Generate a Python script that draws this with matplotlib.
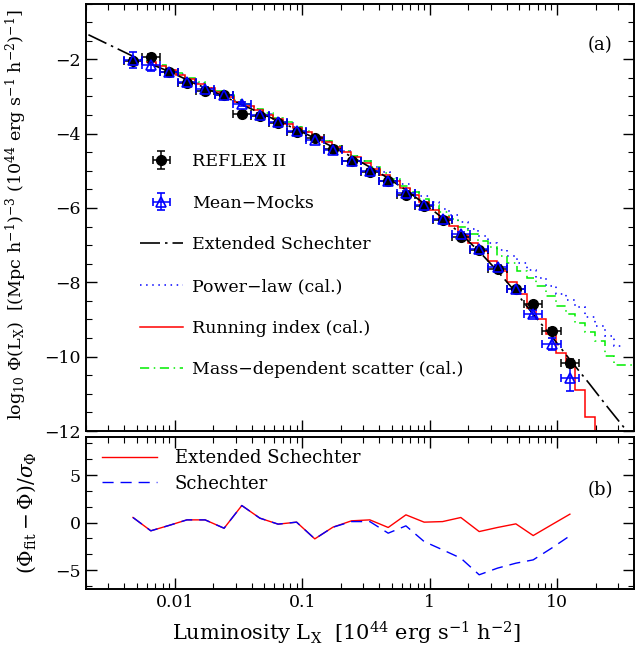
import numpy as np
import matplotlib
matplotlib.use('Agg')
import matplotlib.pyplot as plt
from matplotlib.ticker import MultipleLocator, LogLocator, FuncFormatter, NullFormatter
from matplotlib.lines import Line2D

plt.rcParams['font.family'] = 'DejaVu Serif'
plt.rcParams['mathtext.fontset'] = 'dejavuserif'

# --- data (log10 L_X bin centres) ---
log_lx = [-2.33, -2.19, -2.046, -1.907, -1.764, -1.615, -1.476, -1.334, -1.191, -1.046,
          -0.903, -0.761, -0.615, -0.471, -0.327, -0.188, -0.045, 0.100, 0.243, 0.387,
          0.531, 0.675, 0.811, 0.955, 1.099]
reflex_phi = [-2.05, -1.93, -2.335, -2.63, -2.85, -2.965, -3.48, -3.52, -3.71, -3.96,
              -4.11, -4.42, -4.74, -5.02, -5.28, -5.65, -5.96, -6.32, -6.78, -7.14,
              -7.65, -8.19, -8.59, -9.32, -10.17]
reflex_err = [0.08, 0.06, 0.05, 0.04, 0.04, 0.04, 0.04, 0.04, 0.04, 0.04,
              0.04, 0.04, 0.04, 0.04, 0.04, 0.04, 0.04, 0.04, 0.04, 0.04,
              0.05, 0.05, 0.06, 0.08, 0.12]
mocks_phi = [-2.02, -2.15, -2.34, -2.62, -2.80, -2.97, -3.21, -3.49, -3.68, -3.93,
             -4.16, -4.45, -4.74, -5.00, -5.27, -5.60, -5.92, -6.29, -6.70, -7.11,
             -7.60, -8.19, -8.84, -9.65, -10.58]
mocks_err = [0.22, 0.16, 0.08, 0.06, 0.06, 0.05, 0.05, 0.05, 0.05, 0.05,
             0.05, 0.05, 0.05, 0.05, 0.05, 0.05, 0.05, 0.05, 0.05, 0.05,
             0.06, 0.07, 0.10, 0.16, 0.35]
half_bin = 0.0715

# extended Schechter fit
ext_loglx = [-2.68, -2.33, -2.19, -2.046, -1.907, -1.764, -1.615, -1.476, -1.334, -1.191,
             -1.046, -0.903, -0.761, -0.615, -0.471, -0.327, -0.188, -0.045, 0.100, 0.243,
             0.387, 0.531, 0.675, 0.811, 0.955, 1.099, 1.25, 1.40, 1.56]
ext_phi = [-1.34, -1.92, -2.13, -2.33, -2.55, -2.77, -3.00, -3.22, -3.44, -3.66,
           -3.89, -4.12, -4.36, -4.62, -4.90, -5.20, -5.52, -5.88, -6.27, -6.70,
           -7.17, -7.70, -8.27, -8.86, -9.45, -10.08, -10.72, -11.38, -12.06]

# calibrated model predictions, step functions
step_edges = [-2.224, -2.148, -2.071, -1.995, -1.918, -1.842, -1.765, -1.689, -1.612, -1.536,
              -1.459, -1.383, -1.306, -1.230, -1.153, -1.077, -1.000, -0.924, -0.847, -0.771,
              -0.694, -0.618, -0.541, -0.465, -0.388, -0.312, -0.235, -0.159, -0.082, -0.006,
              0.071, 0.147, 0.224, 0.300, 0.377, 0.453, 0.530, 0.606, 0.683, 0.759,
              0.836, 0.912, 0.989, 1.065, 1.142, 1.218, 1.295, 1.371, 1.448, 1.524, 1.601]
running_phi = [-2.08, -2.19, -2.30, -2.42, -2.54, -2.66, -2.78, -2.89, -3.01, -3.14,
               -3.25, -3.37, -3.49, -3.61, -3.73, -3.85, -3.97, -4.10, -4.23, -4.36,
               -4.50, -4.64, -4.79, -4.94, -5.10, -5.27, -5.45, -5.64, -5.83, -6.05,
               -6.25, -6.48, -6.72, -6.95, -7.15, -7.43, -7.69, -8.00, -8.32, -8.68,
               -9.00, -9.40, -9.90, -10.17, -10.89, -11.61, -13.0]
scatter_phi = [-2.04, -2.15, -2.26, -2.38, -2.50, -2.62, -2.74, -2.85, -2.97, -3.10,
               -3.21, -3.33, -3.45, -3.57, -3.69, -3.81, -3.93, -4.06, -4.19, -4.32,
               -4.46, -4.60, -4.75, -4.90, -5.06, -5.22, -5.40, -5.58, -5.75, -5.93,
               -6.12, -6.30, -6.50, -6.70, -6.88, -7.06, -7.29, -7.47, -7.70, -7.88,
               -8.10, -8.37, -8.64, -8.86, -9.10, -9.35, -9.59, -9.99, -10.22, -10.22]
powerlaw_phi = [-2.06, -2.17, -2.28, -2.40, -2.52, -2.64, -2.76, -2.87, -2.99, -3.12,
                -3.23, -3.35, -3.47, -3.59, -3.71, -3.83, -3.95, -4.08, -4.21, -4.34,
                -4.48, -4.61, -4.75, -4.89, -5.04, -5.19, -5.35, -5.51, -5.67, -5.85,
                -6.03, -6.20, -6.38, -6.56, -6.76, -6.95, -7.13, -7.30, -7.48, -7.66,
                -7.88, -8.10, -8.32, -8.48, -8.66, -8.92, -9.18, -9.45, -9.72]

# residuals (Phi_fit - Phi)/sigma
res_ext = [0.53, -0.87, -0.30, 0.28, 0.28, -0.60, 1.79, 0.46, -0.17, 0.04,
           -1.72, -0.49, 0.18, 0.28, -0.52, 0.81, 0.04, 0.10, 0.53, -0.95,
           -0.52, -0.14, -1.37, -0.24, 0.88]
res_sch = [0.53, -0.87, -0.30, 0.28, 0.28, -0.60, 1.79, 0.46, -0.17, 0.04,
           -1.72, -0.49, 0.10, 0.10, -1.12, -0.35, -2.00, -2.87, -3.75, -5.50,
           -4.80, -4.28, -3.93, -2.70, -1.40]

lx = 10 ** np.array(log_lx)
xerr = [lx - lx * 10 ** -half_bin, lx * 10 ** half_bin - lx]
edges = 10 ** np.array(step_edges)

fig = plt.figure(figsize=(6.35, 6.49), dpi=100)
ax1 = fig.add_axes([0.1354, 0.3359, 0.863, 0.6587])
ax2 = fig.add_axes([0.1354, 0.0924, 0.863, 0.2342])

# --- panel (a) ---
pl_style = dict(color='blue', lw=1.1, ls=(0, (1, 3)))
sc_style = dict(color='#00ee00', lw=1.1, ls=(0, (6, 3, 1, 3)))
ri_style = dict(color='red', lw=1.1)
es_style = dict(color='black', lw=1.2, dashes=(12, 3, 1.5, 3))

ax1.stairs(powerlaw_phi, edges[:len(powerlaw_phi) + 1], baseline=None, **pl_style)
ax1.stairs(scatter_phi, edges[:len(scatter_phi) + 1], baseline=None, **sc_style)
ax1.stairs(running_phi, edges[:len(running_phi) + 1], baseline=None, **ri_style)
ax1.plot(10 ** np.array(ext_loglx), ext_phi, **es_style)
eb_reflex = ax1.errorbar(lx, reflex_phi, xerr=xerr, yerr=reflex_err, fmt='o', color='black',
                         ms=7, elinewidth=1.1, capsize=3, capthick=1.1)
eb_mocks = ax1.errorbar(lx, mocks_phi, xerr=xerr, yerr=mocks_err, fmt='^', color='blue',
                        mfc='none', mec='blue', mew=1.2, ms=7, elinewidth=1.1,
                        capsize=3, capthick=1.1)

ax1.set_xscale('log')
ax1.set_xlim(0.002, 40)
ax1.set_ylim(-12, -0.5)
ax1.yaxis.set_major_locator(MultipleLocator(2))
ax1.yaxis.set_minor_locator(MultipleLocator(0.5))
ax1.tick_params(labelbottom=False)
ax1.set_ylabel(r'log$_{10}$ $\Phi$(L$_{\rm X}$)  [(Mpc h$^{-1}$)$^{-3}$ (10$^{44}$ erg s$^{-1}$ h$^{-2}$)$^{-1}$]',
               fontsize=12.6)
ax1.yaxis.set_label_coords(-0.104, 0.505)
ax1.text(0.938, 0.903, '(a)', transform=ax1.transAxes, fontsize=13, ha='center', va='center')

handles = [eb_reflex, eb_mocks, Line2D([], [], **es_style), Line2D([], [], **pl_style),
           Line2D([], [], **ri_style), Line2D([], [], **sc_style)]
labels = ['REFLEX II', 'Mean\u2212Mocks', 'Extended Schechter', 'Power\u2212law (cal.)',
          'Running index (cal.)', 'Mass\u2212dependent scatter (cal.)']
ax1.legend(handles, labels, loc='upper left', bbox_to_anchor=(0.098, 0.65), frameon=False,
           fontsize=12.5, handlelength=2.5, handletextpad=0.5, labelspacing=1.42,
           borderpad=0, borderaxespad=0)

# --- panel (b) ---
ax2.plot(lx, res_ext, color='red', lw=1.0, label='Extended Schechter')
ax2.plot(lx, res_sch, color='blue', lw=1.0, ls=(0, (8, 5)), label='Schechter')
ax2.set_xscale('log')
ax2.set_xlim(0.002, 40)
ax2.set_ylim(-7, 9)
ax2.yaxis.set_major_locator(MultipleLocator(5))
ax2.yaxis.set_minor_locator(MultipleLocator(5 / 3))
ax2.set_ylabel(r'($\Phi_{\rm fit} - \Phi$)/$\sigma_\Phi$', fontsize=14.5)
ax2.yaxis.set_label_coords(-0.088, 0.5)
ax2.set_xlabel(r'Luminosity L$_{\rm X}$  [10$^{44}$ erg s$^{-1}$ h$^{-2}$]', fontsize=15)
ax2.xaxis.set_label_coords(0.475, -0.2)
ax2.text(0.938, 0.65, '(b)', transform=ax2.transAxes, fontsize=13, ha='center', va='center')
ax2.legend(loc='upper left', bbox_to_anchor=(0.03, 0.92), frameon=False, fontsize=13,
           handlelength=3.0, handletextpad=1.0, labelspacing=0.42, borderpad=0, borderaxespad=0)

for ax in (ax1, ax2):
    ax.xaxis.set_major_locator(LogLocator(base=10, numticks=10))
    ax.xaxis.set_minor_locator(LogLocator(base=10, subs=np.arange(2, 10), numticks=10))
    ax.xaxis.set_minor_formatter(NullFormatter())
    ax.tick_params(which='both', direction='in', top=True, right=True, labelsize=12.5)
    ax.tick_params(which='major', length=8, width=1.0)
    ax.tick_params(which='minor', length=4, width=0.8)
    for s in ax.spines.values():
        s.set_linewidth(1.4)
ax2.xaxis.set_major_formatter(FuncFormatter(lambda v, p: f'{v:g}'))

fig.savefig('out.png', dpi=100)
